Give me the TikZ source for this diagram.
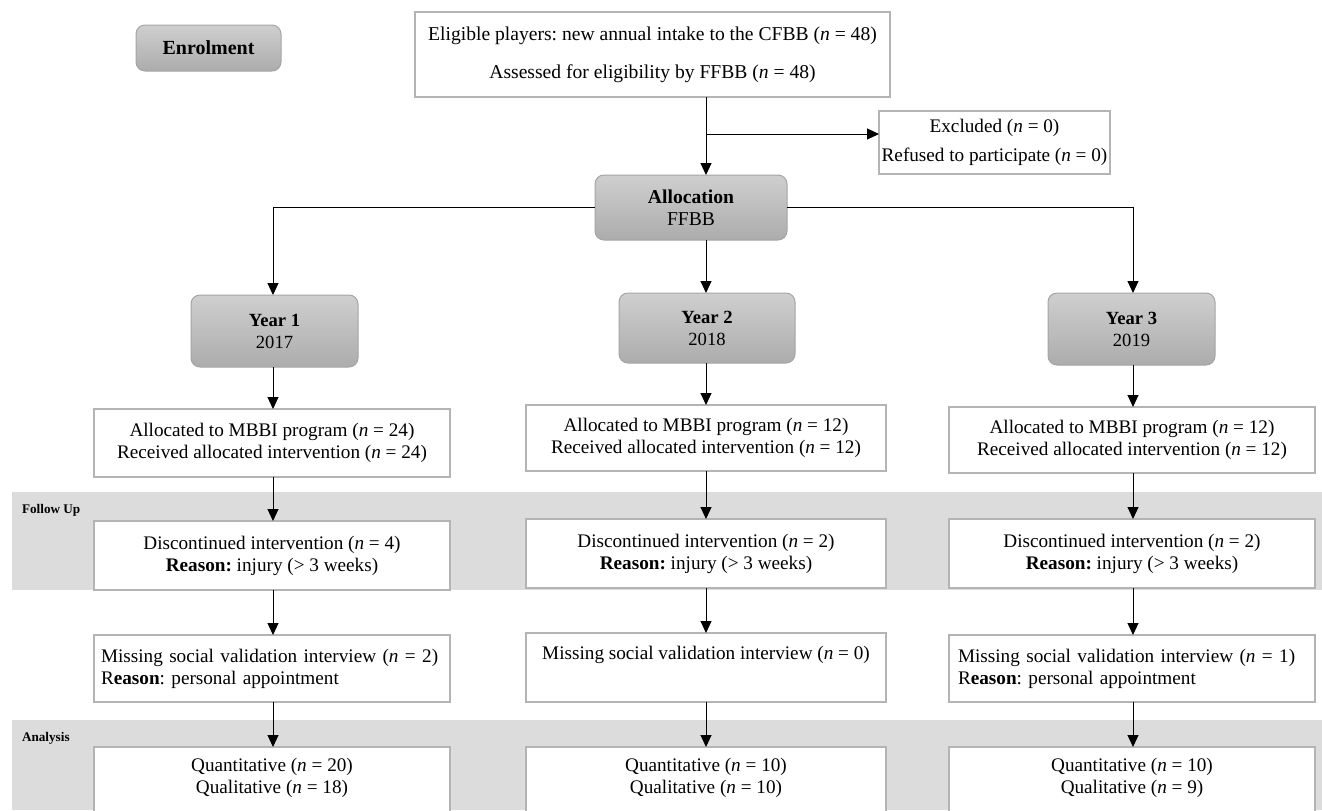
\documentclass[tikz,border=0pt]{standalone}
\usepackage{fontspec}
\setmainfont{Liberation Serif}
\usetikzlibrary{arrows.meta,calc}
\definecolor{bordergray}{HTML}{B4B4B4}
\definecolor{bandgray}{HTML}{DCDCDC}
\definecolor{gtop}{HTML}{CFCFCF}
\definecolor{gbot}{HTML}{ACACAC}
\definecolor{gborder}{HTML}{A4A4A4}
\begin{document}
\frenchspacing
\begin{tikzpicture}[x=0.5pt,y=-0.5pt,
  every node/.style={inner sep=0pt,outer sep=0pt},
  box/.style={draw=bordergray,line width=0.8pt,fill=white,font=\fontsize{9.6}{11}\selectfont,align=center},
  rbox/.style={draw=gborder,line width=0.5pt,rounded corners=4.5pt,top color=gtop,bottom color=gbot,font=\fontsize{9.3}{11}\selectfont,align=center},
  lab/.style={font=\bfseries\fontsize{6.6}{8}\selectfont,anchor=west},
  arr/.style={line width=0.5pt,-{Triangle[length=6pt,width=5.5pt]}},
  ln/.style={line width=0.5pt}]
\useasboundingbox (0,0) rectangle (1322,810);
% bands
\fill[bandgray] (12,492) rectangle (1322,590);
\fill[bandgray] (12,720) rectangle (1322,810);
\node[lab] (fu) at (22,510) {Follow Up};
\node[lab] (an) at (22,738) {Analysis};
% column coordinates
\coordinate (c1) at (273,0);
\coordinate (c2) at (706,0);
\coordinate (c3) at (1133,0);
% top part
\node[rbox,minimum width=72.5pt,minimum height=23pt,font=\bfseries\fontsize{10}{12}\selectfont] (enrol) at (208.5,48) {Enrolment};
\node[box,minimum width=237.5pt,minimum height=42.5pt,font=\fontsize{9.8}{12}\selectfont] (top) at (652.5,54.5)
  {Eligible players: new annual intake to the CFBB (\textit{n} = 48)\\[7pt] Assessed for eligibility by FFBB (\textit{n} = 48)};
\node[box,minimum width=115.5pt,minimum height=31.5pt,font=\fontsize{9.6}{11.5}\selectfont] (excl) at (994.5,142.5)
  {Excluded (\textit{n} = 0)\\[3pt] Refused to participate (\textit{n} = 0)};
\node[rbox,minimum width=96pt,minimum height=32.5pt,font=\fontsize{9.8}{11}\selectfont] (alloc) at (691,207.5)
  {\textbf{Allocation}\\FFBB};
\coordinate (br) at (706,134);
\draw[ln] (top.south -| c2) -- (br);
\draw[arr] (br) -- (br -| excl.west);
\draw[arr] (br) -- (alloc.north -| c2);
% years
\node[rbox,minimum width=83.5pt,minimum height=36pt] (y1) at (274.5,331) {\textbf{Year 1}\\2017};
\node[rbox,minimum width=88pt,minimum height=35pt] (y2) at (707,328) {\textbf{Year 2}\\2018};
\node[rbox,minimum width=83.5pt,minimum height=36pt] (y3) at (1131.5,329) {\textbf{Year 3}\\2019};
\draw[arr] (alloc.west) -| (y1.north -| c1);
\draw[arr] (alloc.east) -| (y3.north -| c3);
\draw[arr] (alloc.south -| c2) -- (y2.north -| c2);
% allocated
\node[box,minimum width=178pt,minimum height=34pt] (a1) at (272,443)
  {Allocated to MBBI program (\textit{n} = 24)\\Received allocated intervention (\textit{n} = 24)};
\node[box,minimum width=180pt,minimum height=33pt] (a2) at (706,438)
  {Allocated to MBBI program (\textit{n} = 12)\\Received allocated intervention (\textit{n} = 12)};
\node[box,minimum width=183pt,minimum height=33pt] (a3) at (1132,440)
  {Allocated to MBBI program (\textit{n} = 12)\\Received allocated intervention (\textit{n} = 12)};
\draw[arr] (y1.south -| c1) -- (a1.north -| c1);
\draw[arr] (y2.south -| c2) -- (a2.north -| c2);
\draw[arr] (y3.south -| c3) -- (a3.north -| c3);
% discontinued
\node[box,minimum width=178pt,minimum height=34.5pt] (d1) at (272,555.5)
  {Discontinued intervention (\textit{n} = 4)\\\textbf{Reason:} injury (> 3 weeks)};
\node[box,minimum width=180pt,minimum height=34.5pt] (d2) at (706,553.5)
  {Discontinued intervention (\textit{n} = 2)\\\textbf{Reason:} injury (> 3 weeks)};
\node[box,minimum width=183pt,minimum height=34.5pt] (d3) at (1132,553.5)
  {Discontinued intervention (\textit{n} = 2)\\\textbf{Reason:} injury (> 3 weeks)};
\draw[arr] (a1.south -| c1) -- (d1.north -| c1);
\draw[arr] (a2.south -| c2) -- (d2.north -| c2);
\draw[arr] (a3.south -| c3) -- (d3.north -| c3);
% missing
\node[box,minimum width=178pt,minimum height=33.5pt,text width=171pt,align=left] (m1) at (272,668.5)
  {Missing social validation interview (\textit{n} = 2)\\R\textbf{eason}: personal appointment};
\node[box,minimum width=180pt,minimum height=34.5pt] (m2) at (706,667.5)
  {Missing social validation interview (\textit{n} = 0)\\\strut};
\node[box,minimum width=183pt,minimum height=33.5pt,text width=174pt,align=left] (m3) at (1132,668.5)
  {Missing social validation interview (\textit{n} = 1)\\R\textbf{eason}: personal appointment};
\draw[arr] (d1.south -| c1) -- (m1.north -| c1);
\draw[arr] (d2.south -| c2) -- (m2.north -| c2);
\draw[arr] (d3.south -| c3) -- (m3.north -| c3);
% analysis (boxes run past the bottom edge)
\node[box,minimum width=178pt,minimum height=43pt] (q1) at (272,790)
  {Quantitative (\textit{n} = 20)\\Qualitative (\textit{n} = 18)\\\strut};
\node[box,minimum width=180pt,minimum height=43pt] (q2) at (706,790)
  {Quantitative (\textit{n} = 10)\\Qualitative (\textit{n} = 10)\\\strut};
\node[box,minimum width=183pt,minimum height=43pt] (q3) at (1132,790)
  {Quantitative (\textit{n} = 10)\\Qualitative (\textit{n} = 9)\\\strut};
\draw[arr] (m1.south -| c1) -- (q1.north -| c1);
\draw[arr] (m2.south -| c2) -- (q2.north -| c2);
\draw[arr] (m3.south -| c3) -- (q3.north -| c3);
\end{tikzpicture}
\end{document}
